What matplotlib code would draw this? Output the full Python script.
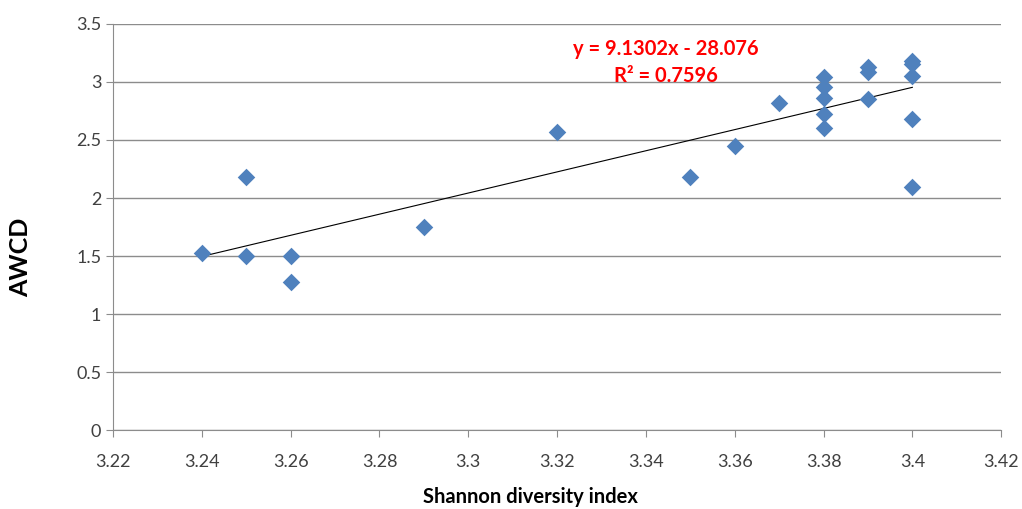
import numpy as np
import matplotlib.pyplot as plt

plt.rcParams['font.family'] = ['Lato', 'DejaVu Sans']

# Shannon diversity index vs AWCD
shannon = [3.24, 3.25, 3.25, 3.26, 3.26, 3.29, 3.32, 3.35, 3.36, 3.37,
           3.38, 3.38, 3.38, 3.38, 3.38, 3.39, 3.39, 3.39,
           3.40, 3.40, 3.40, 3.40, 3.40]
awcd = [1.53, 2.18, 1.50, 1.50, 1.28, 1.75, 2.57, 2.18, 2.45, 2.82,
        3.045, 2.96, 2.86, 2.725, 2.60, 3.13, 3.09, 2.855,
        3.18, 3.155, 3.05, 2.68, 2.095]

eq_text = 'y = 9.1302x - 28.076\nR² = 0.7596'

fig = plt.figure(figsize=(10.22, 5.09), dpi=100)
ax = fig.add_axes([0.1106, 0.155, 0.869, 0.798])

ax.scatter(shannon, awcd, marker='D', s=80, color='#4F81BD', zorder=3, linewidths=0)

# linear trendline
k, b = np.polyfit(shannon, awcd, 1)
xs = np.array([min(shannon), max(shannon)])
ax.plot(xs, k * xs + b, color='black', lw=0.8, zorder=2)

ax.text(3.3445, 3.17, eq_text, color='#FF0000', fontsize=14.5, fontweight='bold',
        ha='center', va='center', linespacing=1.45)

ax.set_xlim(3.22, 3.42)
ax.set_ylim(0, 3.5)
ax.set_xticks(np.arange(3.22, 3.4201, 0.02))
ax.set_xticklabels(['3.22', '3.24', '3.26', '3.28', '3.3', '3.32', '3.34',
                    '3.36', '3.38', '3.4', '3.42'])
ax.set_yticks(np.arange(0, 3.51, 0.5))
ax.set_yticklabels(['0', '0.5', '1', '1.5', '2', '2.5', '3', '3.5'])

ax.grid(axis='y', color='#8c8c8c', lw=1)
ax.set_axisbelow(True)
for s in ['top', 'right']:
    ax.spines[s].set_visible(False)
for s in ['left', 'bottom']:
    ax.spines[s].set_color('#8c8c8c')
ax.tick_params(axis='both', colors='#8c8c8c', labelcolor='#404040', labelsize=13,
               length=5, direction='out')
ax.tick_params(axis='x', pad=12)

ax.set_ylabel('AWCD', fontsize=18, fontweight='bold')
ax.yaxis.set_label_coords(-0.091, 0.425)
ax.set_xlabel('Shannon diversity index', fontsize=14.5, fontweight='bold')
ax.xaxis.set_label_coords(0.47, -0.14)

fig.savefig('out.png', dpi=100)
